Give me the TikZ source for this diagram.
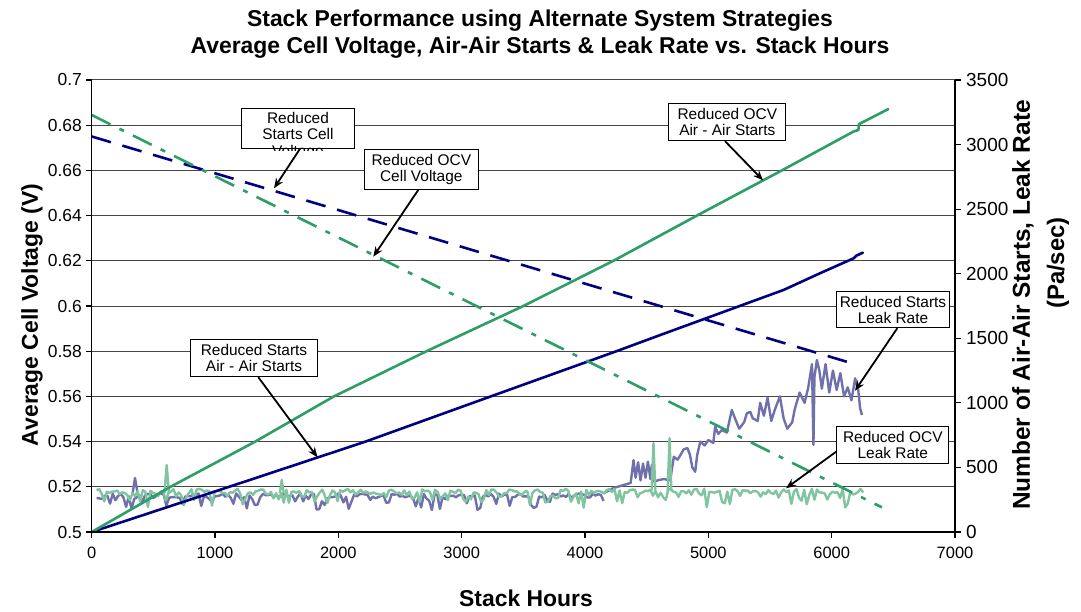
\documentclass[tikz,border=0pt]{standalone}
\usepackage{fontspec}
\setmainfont{Liberation Sans}
\usetikzlibrary{arrows.meta}
\definecolor{navyline}{RGB}{0,0,128}
\definecolor{seagreen}{RGB}{46,158,104}
\definecolor{leakpurple}{RGB}{112,112,172}
\definecolor{leakgreen}{RGB}{128,196,160}
\definecolor{gridgray}{RGB}{70,70,70}
\begin{document}
\begin{tikzpicture}[x=1bp,y=-1bp,
  gridline/.style={draw=gridgray, line width=1bp},
  axisline/.style={draw=black, line width=1.4bp},
  tickmark/.style={draw=black, line width=1.2bp},
  leftlbl/.style={font=\fontsize{17.5}{19}\selectfont, inner sep=0pt, anchor=east},
  rightlbl/.style={font=\fontsize{19}{21}\selectfont, inner sep=0pt, anchor=west},
  bottomlbl/.style={font=\fontsize{16.5}{18}\selectfont, inner sep=0pt},
  titletext/.style={font=\bfseries\fontsize{23}{25}\selectfont, inner sep=0pt},
  boxtext/.style={font=\fontsize{15.5}{16}\selectfont, align=center, inner sep=0pt},
  annot/.style={boxtext, draw=black, line width=1bp, fill=white},
  callout/.style={draw=black, line width=1.8bp, -{Stealth[length=10bp,width=8bp]}},
  startsline/.style={line width=2.6bp, line join=round, line cap=round},
  leakline/.style={line width=2.4bp, line join=round},
]
\useasboundingbox (0,0) rectangle (1081,612);
\fill[white] (0,0) rectangle (1081,612);

% horizontal gridlines (0.52 ... 0.70 V)
\foreach \k in {1,...,10}
  \draw[gridline] (91.7,{532-45.2*\k}) -- (955,{532-45.2*\k});

% ---- right-axis series: leak rates and air-air starts ----
\begin{scope}[shift={(91.7,532)}, x=0.12333bp, y=0.129143bp]
  \pgfmathsetseed{20}
  % Reduced Starts leak rate
  \draw[leakline, leakpurple] plot[domain=40:4150, samples=190]
        (\x, {300 - 30*rnd - 110*rnd^5});
  \draw[leakline, leakpurple] (330,290) -- (351,418) -- (372,300);
  \draw[leakline, leakpurple] plot coordinates {
    (4150,300) (4230,340) (4300,360) (4370,380) (4393,557) (4410,420)
    (4430,540) (4450,400) (4470,530) (4490,420) (4510,545) (4530,410)
    (4542,520) (4560,390) (4600,403) (4640,410) (4690,400) (4720,583)
    (4750,560) (4770,590) (4800,640) (4830,650) (4850,600) (4870,500)
    (4893,467) (4910,600) (4935,700) (4970,670) (5000,712) (5040,690)
    (5055,815) (5080,760) (5110,790) (5150,770) (5190,945) (5220,870)
    (5250,800) (5290,850) (5312,920) (5340,930) (5360,880) (5400,860)
    (5420,1000) (5450,900) (5480,1040) (5510,860) (5540,950) (5580,1050)
    (5610,880) (5640,800) (5680,850) (5700,950) (5740,1080) (5780,1000)
    (5810,1120) (5840,1300) (5852,674) (5860,1200) (5880,1332) (5900,1250)
    (5920,1110) (5950,1300) (5980,1080) (6010,1250) (6040,1100) (6070,1230)
    (6100,1050) (6130,1120) (6160,1020) (6190,1190) (6215,1100) (6230,960)
    (6245,906)};
  % Reduced OCV leak rate
  \draw[leakline, leakgreen] plot[domain=40:6255, samples=300]
        (\x, {335 - 35*rnd - 120*rnd^5});
  \draw[leakline, leakgreen] (590,300) -- (608,519) -- (626,300);
  \draw[leakline, leakgreen] (1525,300) -- (1541,403) -- (1557,300);
  \draw[leakline, leakgreen] (4540,320) -- (4555,689) -- (4570,320);
  \draw[leakline, leakgreen] (4670,320) -- (4685,727) -- (4700,320);
  % Reduced Starts air-air starts
  \draw[startsline, navyline] plot coordinates {
    (0,0) (1108,348) (2217,699) (3230,1048) (4258,1401) (4609,1525)
    (5609,1874) (5934,2016) (6177,2119) (6200,2140) (6253,2163)};
  % Reduced OCV air-air starts
  \draw[startsline, seagreen] plot coordinates {
    (0,0) (635,348) (1324,699) (1960,1048) (2717,1401) (3500,1750)
    (4230,2100) (4907,2450) (5596,2800) (6175,3100) (6216,3113)
    (6222,3159) (6459,3275)};
\end{scope}

% ---- left-axis series: average cell voltage ----
\begin{scope}[shift={(91.7,1662)}, x=0.12333bp, y=2260bp]
  \draw[navyline, line width=2.6bp, dash pattern=on 20bp off 12bp]
    (0,0.675) -- (6210,0.5739);
  \draw[seagreen, line width=2.6bp, dash pattern=on 21bp off 10bp on 5bp off 10bp]
    (0,0.6845) -- (6407,0.5109);
\end{scope}

% ---- axes ----
\draw[axisline] (91.7,80) -- (91.7,532) -- (955,532) -- (955,80);

\foreach \lbl [count=\k from 0] in {0.5,0.52,0.54,0.56,0.58,0.6,0.62,0.64,0.66,0.68,0.7} {
  \draw[tickmark] (86,{532-45.2*\k}) -- (91.7,{532-45.2*\k});
  \node[leftlbl] (vlbl\k) at (82,{532-45.2*\k}) {\lbl};
}
\foreach \lbl [count=\k from 0] in {0,500,...,3500} {
  \draw[tickmark] (955,{532-64.5714*\k}) -- (961,{532-64.5714*\k});
  \node[rightlbl] (nlbl\k) at (966,{532-64.5714*\k}) {\lbl};
}
\foreach \lbl [count=\k from 0] in {0,1000,...,7000} {
  \draw[tickmark] ({91.7+123.33*\k},532) -- ({91.7+123.33*\k},538);
  \node[bottomlbl] (hlbl\k) at ({91.7+123.33*\k},553) {\lbl};
}

% ---- titles ----
\node[titletext, anchor=base] (title1) at (540,27) {Stack Performance using Alternate System Strategies};
\node[titletext, anchor=base] (title2) at (540,54) {Average Cell Voltage, Air-Air Starts \& Leak Rate vs. Stack Hours};
\node[titletext, anchor=base] (xtitle) at (526,606) {Stack Hours};
\node[titletext, rotate=90] (ytitle) at (32,315) {Average Cell Voltage (V)};
\node[titletext, font=\bfseries\fontsize{24.5}{26}\selectfont, rotate=90] (ntitle) at (1023,305) {Number of Air-Air Starts, Leak Rate};
\node[titletext, font=\bfseries\fontsize{24}{26}\selectfont, rotate=90] (ptitle) at (1058,263) {(Pa/sec)};

% ---- callouts ----
\node[annot, minimum width=112.6bp, minimum height=40bp] (rsv) at (298,128.3) {};
\begin{scope}
  \clip (241.7,108.3) rectangle (354.3,150.5);
  \node[boxtext, anchor=base] (rsvA) at (298,124) {Reduced};
  \node[boxtext, anchor=base] (rsvB) at (298,140) {Starts Cell};
  \node[boxtext, anchor=base] (rsvC) at (298,157) {Voltage};
\end{scope}
\node[annot, minimum width=114bp, minimum height=40.3bp] (rov) at (421.3,169.2) {Reduced OCV\\Cell Voltage};
\node[annot, minimum width=116.7bp, minimum height=36.7bp] (roa) at (727.3,122.3) {Reduced OCV\\Air - Air Starts};
\node[annot, minimum width=112.6bp, minimum height=36bp] (rsl) at (893,309.7) {Reduced Starts\\Leak Rate};
\node[annot, minimum width=112.3bp, minimum height=36.6bp] (rol) at (892.8,445) {Reduced OCV\\Leak Rate};
\node[annot, minimum width=126.6bp, minimum height=37.4bp] (rsa) at (254,358) {Reduced Starts\\Air - Air Starts};

\coordinate (tipRSV) at (274,188.3);
\coordinate (tipROV) at (373.3,256.7);
\coordinate (tipROA) at (763,180.3);
\coordinate (tipRSL) at (855,390.7);
\coordinate (tipROL) at (786,488.3);
\coordinate (tipRSA) at (317.5,457.3);

\draw[callout] ([xshift=2bp]rsv.south) -- (tipRSV);
\draw[callout] ([xshift=-3bp]rov.south) -- (tipROV);
\draw[callout] ([xshift=-2.3bp]roa.south) -- (tipROA);
\draw[callout] ([xshift=4.3bp]rsl.south) -- (tipRSL);
\draw[callout] ([yshift=-6.7bp]rol.west) -- (tipROL);
\draw[callout] ([xshift=4.3bp]rsa.south) -- (tipRSA);
\end{tikzpicture}
\end{document}
